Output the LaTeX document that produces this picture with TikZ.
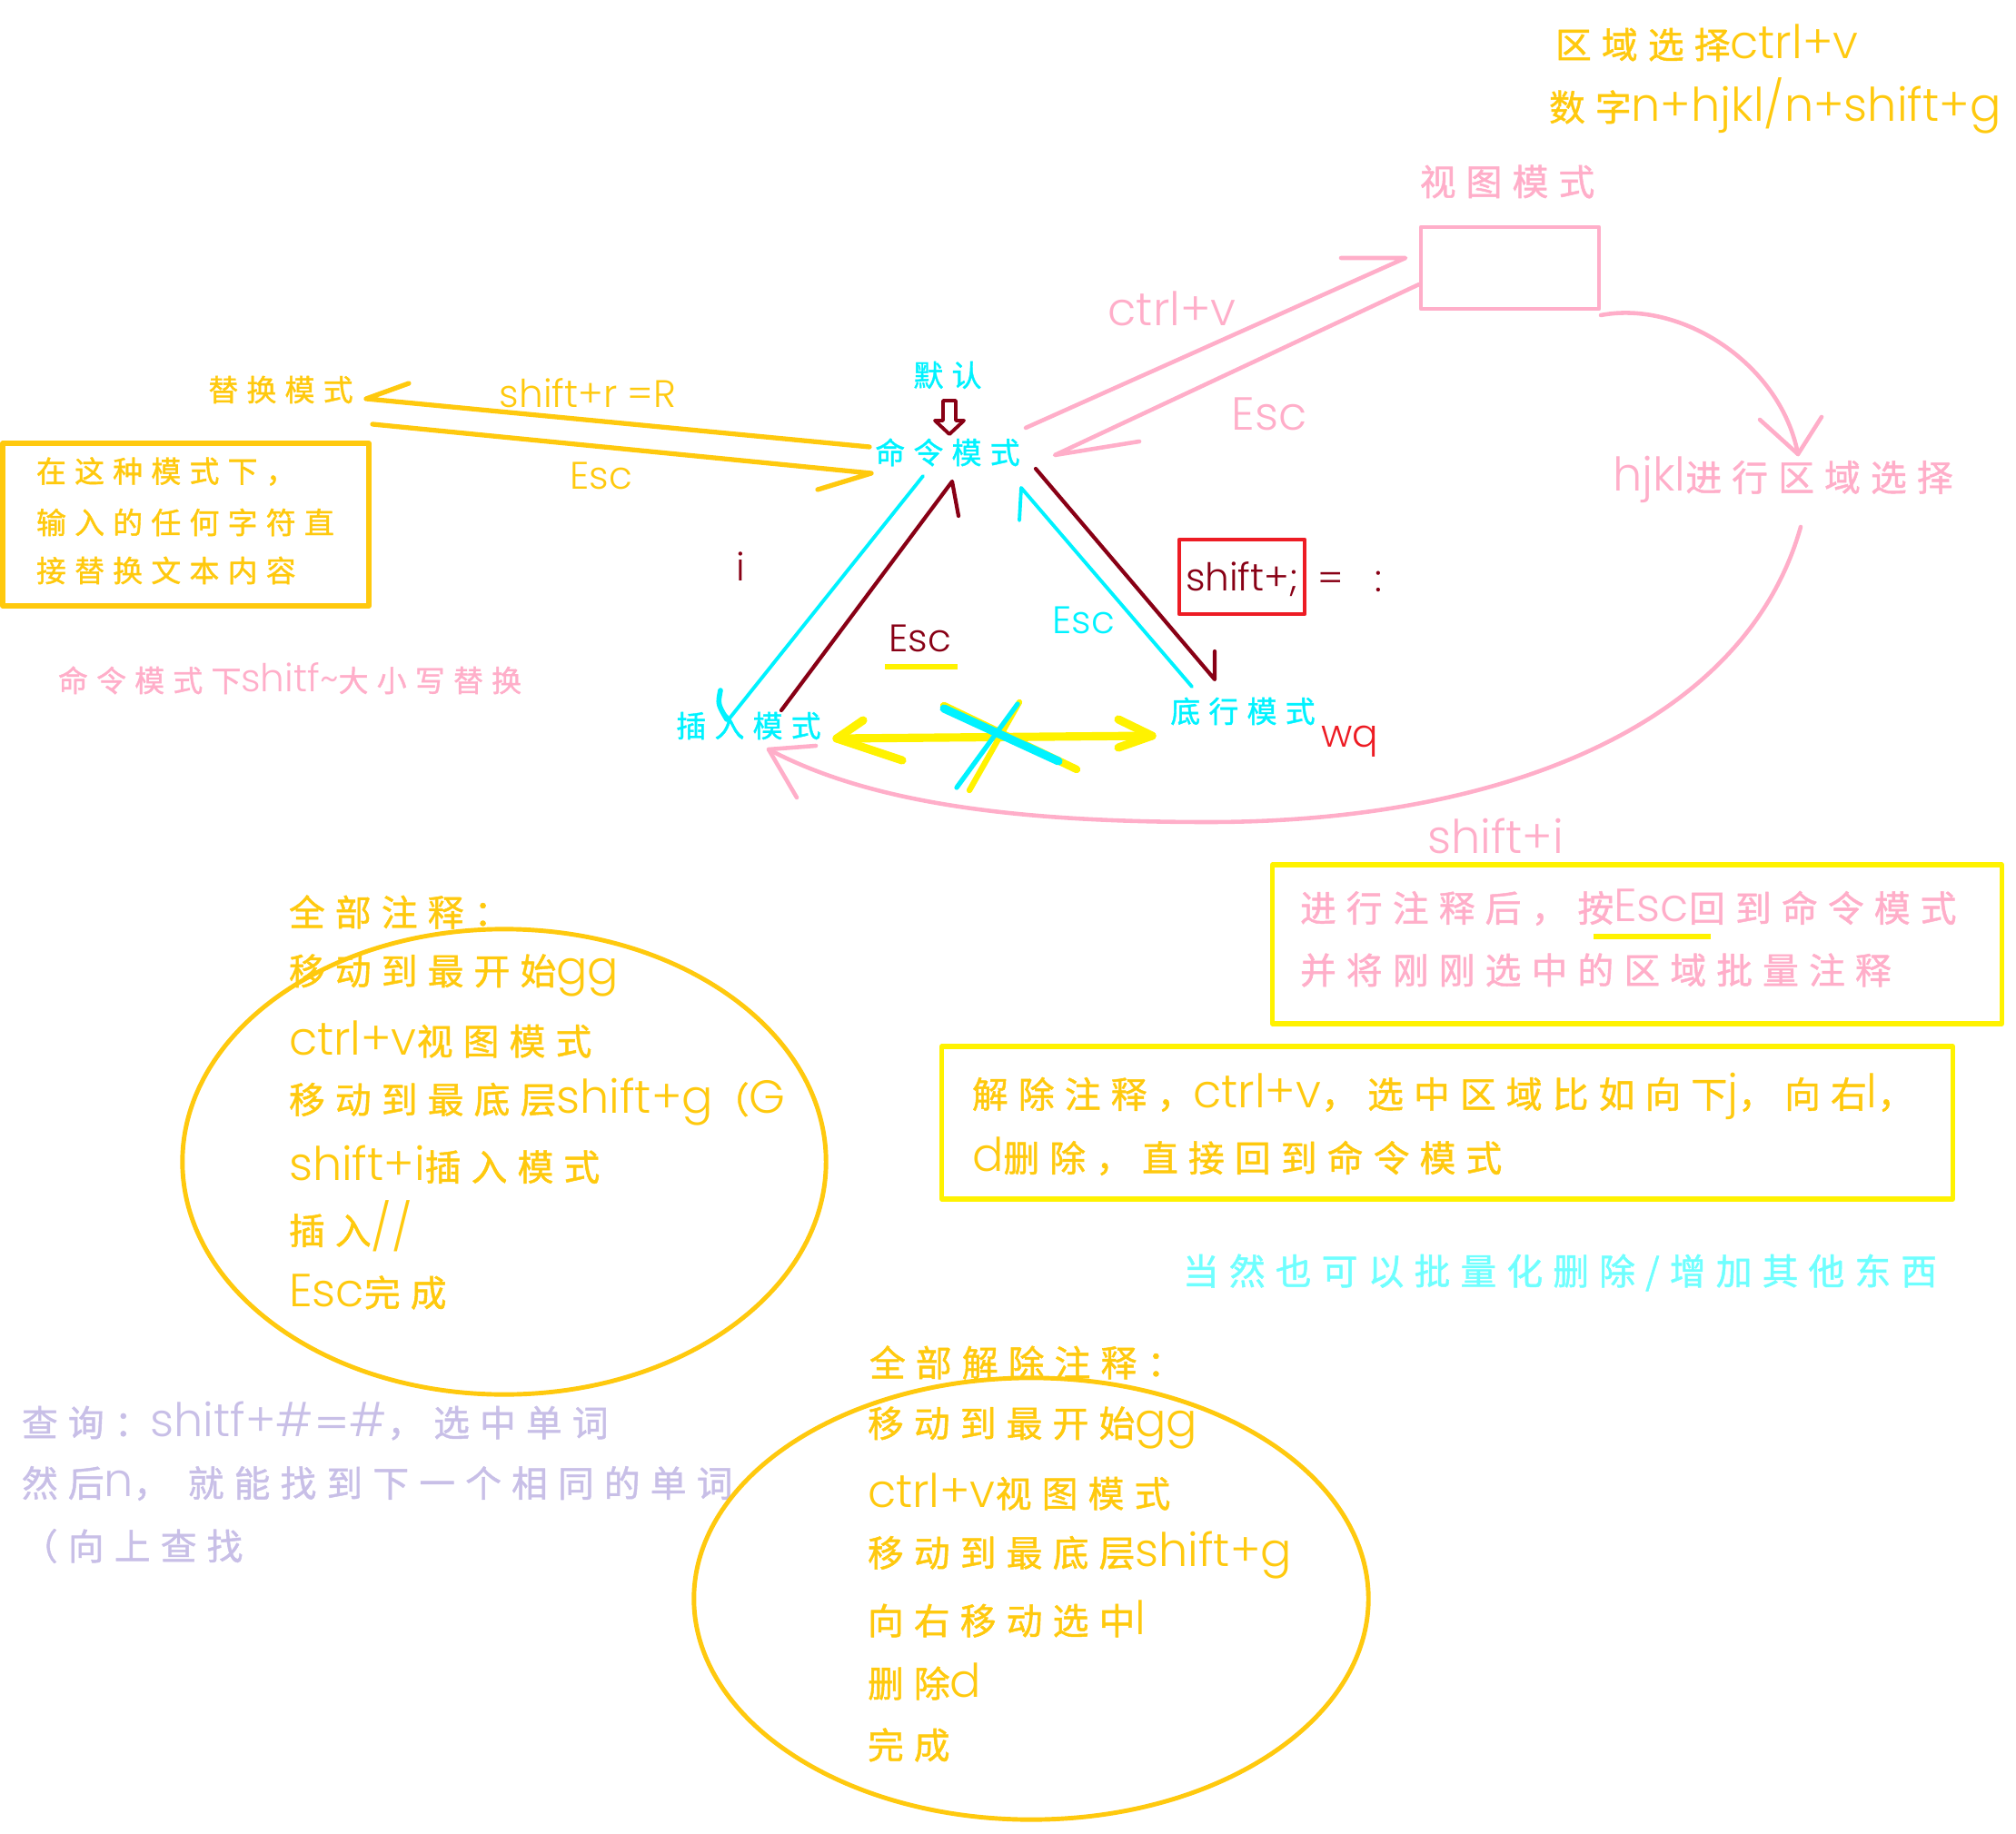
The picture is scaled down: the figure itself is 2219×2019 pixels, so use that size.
\documentclass[tikz,border=0pt]{standalone}
\usepackage{fontspec}
\usetikzlibrary{shapes.geometric,calc}
\setmainfont{Poppins Light}
\newfontfamily\zh[Scale=0.78,LetterSpace=28,FakeBold=1.2]{Noto Sans CJK SC}
\definecolor{gold}{HTML}{FFC90E}
\definecolor{rose}{HTML}{FFAEC9}
\definecolor{cyn}{HTML}{00F2FF}
\definecolor{dred}{HTML}{880015}
\definecolor{rred}{HTML}{ED1C24}
\definecolor{yel}{HTML}{FFF200}
\definecolor{lav}{HTML}{C8BFE7}
\definecolor{lcyn}{HTML}{6FFFFF}
\tikzset{
  txt/.style={inner sep=0pt, outer sep=0pt},
  sm/.style={txt, font=\fontsize{12}{14}\selectfont},
  lg/.style={txt, font=\fontsize{14.5}{17}\selectfont},
  goldln/.style={draw=gold, line width=1.5pt},
  roseln/.style={draw=rose, line width=1.3pt},
  cynln/.style={draw=cyn, line width=1.1pt},
  dredln/.style={draw=dred, line width=1.2pt},
  yelln/.style={draw=yel, line width=2.6pt},
  boxgold/.style={draw=gold, line width=1.5pt, inner sep=0pt},
  boxyel/.style={draw=yel, line width=1.5pt, inner sep=0pt},
}
\begin{document}
\begin{tikzpicture}[x=0.01cm, y=-0.01cm, line cap=round, line join=round]
\useasboundingbox (0,0) rectangle (2219,2019);

% ---------- top right ----------
\node[lg, anchor=west, text=gold] (tr1) at (1712,47) {{\zh 区域选择}ctrl+v};
\node[lg, anchor=west, text=gold] (tr2) at (1705,116) {{\zh 数字}n+hjkl/n+shift+g};

% ---------- view mode ----------
\node[lg, text=rose] (vmt) at (1659,200) {\zh 视图模式};
\node[draw=rose, line width=1.3pt, minimum width=1.96cm, minimum height=0.90cm, inner sep=0pt] (vbox) at (1662,295) {};
\node[lg, text=rose] (ctrlv) at (1290,340) {ctrl+v};
\node[lg, text=rose] (escp) at (1397,456) {Esc};
\node[lg, anchor=west, text=rose] (hjkl) at (1775,528) {hjkl{\zh 进行区域选择}};
\node[lg, text=rose] (shi) at (1646,920) {shift+i};

% ---------- command mode ----------
\node[sm, text=cyn] (def) at (1043,413) {\zh 默认};
\node[sm, text=cyn] (cmd) at (1043,498) {\zh 命令模式};
\draw[dred, line width=1.1pt] (1038,441) -- (1052,441) -- (1052,463) -- (1061,463) -- (1045,478) -- (1029,463) -- (1038,463) -- cycle;

% ---------- replace mode ----------
\node[sm, text=gold] (rep) at (309,429) {\zh 替换模式};
\node[sm, text=gold] (shr) at (647,433) {shift+r =R};
\node[sm, text=gold] (escg) at (662,524) {Esc};
\coordinate (rA) at (403,439);
\coordinate (rB) at (957,492);
\coordinate (rC) at (450,422);
\coordinate (rD) at (410,467);
\coordinate (rE) at (959,521);
\coordinate (rF) at (900,539);
\draw[goldln] (rB) -- (rA) -- (rC);
\draw[goldln] (rD) -- (rE) -- (rF);

\node[boxgold, minimum width=4.03cm, minimum height=1.79cm] (rbox) at (204.5,577.5) {};
\node[sm, anchor=west, text=gold] (rb1) at (40,519) {\zh 在这种模式下，};
\node[sm, anchor=west, text=gold] (rb2) at (40,575) {\zh 输入的任何字符直};
\node[sm, anchor=west, text=gold] (rb3) at (40,628) {\zh 接替换文本内容};
\node[sm, anchor=west, text=rose] (pnote) at (64,747) {{\zh 命令模式下}shitf\textasciitilde{\zh 大小写替换}};

% ---------- insert / bottom-line modes ----------
\node[sm, text=dred] (ilab) at (815,624) {i};
\node[sm, text=cyn] (ins) at (824,799) {\zh 插入模式};
\node[sm, text=cyn] (bot) at (1368,783) {\zh 底行模式};
\node[sm, text=rred] (wq) at (1486,816) {wq};
\node[sm, text=dred] (escd) at (1013,703) {Esc};
\node[sm, text=cyn] (escc) at (1193,683) {Esc};
\node[draw=rred, line width=1.2pt, minimum width=1.38cm, minimum height=0.82cm, inner sep=0pt] (rbx) at (1367,635) {};
\node[sm, anchor=west, text=dred] (shsemi) at (1305,638) {shift+;};
\node[sm, anchor=west, text=dred] (eqc) at (1450,640) {=\hspace{0.35cm}:};

\coordinate (ybA) at (974,734);
\coordinate (ybB) at (1054,734);
\draw[draw=yel, line width=1.8pt, line cap=butt] (ybA) -- (ybB);

% triangle connectors
\coordinate (c1) at (1016,524);
\coordinate (c2) at (802,792);
\coordinate (c3) at (793,760);
\draw[cynln] (c1) -- (c2);
\draw[draw=cyn, line width=1.6pt] (c3) .. controls (790,775) .. (800,792);

\coordinate (d1) at (860,782);
\coordinate (d2) at (1048,530);
\coordinate (d3) at (1055,568);
\draw[dredln] (d1) -- (d2) -- (d3);

\coordinate (e1) at (1312,756);
\coordinate (e2) at (1124,537);
\coordinate (e3) at (1122,573);
\draw[cynln] (e1) -- (e2) -- (e3);

\coordinate (f1) at (1140,516);
\coordinate (f2) at (1337,748);
\coordinate (f3) at (1337,717);
\draw[dredln] (f1) -- (f2) -- (f3);

% yellow double arrow with cross
\coordinate (yA) at (921,813);
\coordinate (yB) at (1268,810);
\draw[yelln] (yA) -- (yB);
\draw[yelln] (950,793) -- (yA) -- (993,837);
\draw[yelln] (1231,792) -- (yB) -- (1231,823);
\draw[draw=yel, line width=2.4pt] (1039,777) -- (1185,847);
\draw[draw=yel, line width=1.8pt] (1122,773) -- (1067,870);
\draw[draw=cyn, line width=2.6pt] (1039,780) -- (1165,838);
\draw[draw=cyn, line width=1.5pt] (1120,775) -- (1053,867);

% pink connectors to view mode
\coordinate (p1) at (1129,471);
\coordinate (p2) at (1547,284);
\coordinate (p3) at (1476,284);
\draw[roseln] (p1) -- (p2) -- (p3);
\coordinate (q1) at (1562,313);
\coordinate (q2) at (1161,501);
\coordinate (q3) at (1254,486);
\draw[roseln] (q1) -- (q2) -- (q3);

% pink curves
\coordinate (s1) at (1762,347);
\coordinate (s2) at (1979,500);
\draw[roseln] (s1) .. controls (1850,330) and (1960,400) .. (s2);
\draw[roseln] (1937,462) -- (s2) -- (2005,459);
\coordinate (u1) at (1982,580);
\coordinate (u2) at (1330,905);
\coordinate (u3) at (846,825);
\draw[roseln] (u1) .. controls (1920,800) and (1650,905) .. (u2) .. controls (1100,905) and (950,880) .. (u3);
\draw[roseln] (898,821) -- (u3) -- (877,878);

% ---------- yellow box 1 ----------
\node[boxyel, minimum width=8.02cm, minimum height=1.75cm] (yb1) at (1802,1039.5) {};
\node[lg, anchor=west, text=rose] (b1a) at (1431,1000) {\zh 进行注释后，按};
\node[lg, anchor=base west, text=rose] (b1b) at (b1a.base east) {Esc};
\node[lg, anchor=base west, text=rose] (b1c) at (b1b.base east) {\zh 回到命令模式};
\draw[draw=yel, line width=1.8pt, line cap=butt] ($(b1b.base west)+(-22,16)$) coordinate (ub1) -- ($(b1b.base east)+(24,16)$) coordinate (ub2);
\node[lg, anchor=west, text=rose] (b1d) at (1431,1068) {\zh 并将刚刚选中的区域批量注释};

% ---------- yellow box 2 ----------
\node[boxyel, minimum width=11.12cm, minimum height=1.68cm] (yb2) at (1593,1236) {};
\node[lg, anchor=west, text=gold] (b2a) at (1070,1207) {{\zh 解除注释，}ctrl+v{\zh ，选中区域比如向下}j{\zh ，向右}l{\zh ，}};
\node[lg, anchor=west, text=gold] (b2b) at (1070,1273) {d{\zh 删除，直接回到命令模式}};

\node[lg, anchor=west, text=lcyn] (also) at (1302,1401) {\zh 当然也可以批量化删除/增加其他东西};

% ---------- ellipse 1 ----------
\node[draw=gold, line width=1.4pt, ellipse, minimum width=7.08cm, minimum height=5.12cm, inner sep=0pt] (ell1) at (555,1279) {};
\node[lg, anchor=west, text=gold] (e1t) at (318,1004) {\zh 全部注释：};
\node[lg, anchor=west, text=gold] (e1a) at (318,1074) {{\zh 移动到最开始}gg};
\node[lg, anchor=west, text=gold] (e1b) at (318,1144) {ctrl+v{\zh 视图模式}};
\node[lg, anchor=west, text=gold] (e1c) at (318,1213) {{\zh 移动到最底层}shift+g{\zh （}G};
\node[lg, anchor=west, text=gold] (e1d) at (318,1282) {shift+i{\zh 插入模式}};
\node[lg, anchor=west, text=gold] (e1e) at (318,1350) {{\zh 插入}//};
\node[lg, anchor=west, text=gold] (e1f) at (318,1422) {Esc{\zh 完成}};

% ---------- lavender notes ----------
\node[lg, anchor=west, text=lav] (lv1) at (24,1564) {{\zh 查询：}shitf+\#{\zh ＝}\#{\zh ，选中单词}};
\node[lg, anchor=west, text=lav] (lv2) at (24,1633) {{\zh 然后}n{\zh ，\ 就能找到下一个相同的单词}};
\node[lg, anchor=west, text=lav] (lv3) at (24,1702) {\zh （向上查找};

% ---------- ellipse 2 ----------
\node[draw=gold, line width=1.4pt, ellipse, minimum width=7.42cm, minimum height=4.86cm, inner sep=0pt] (ell2) at (1135,1760) {};
\node[lg, anchor=west, text=gold] (e2t) at (957,1500) {\zh 全部解除注释：};
\node[lg, anchor=west, text=gold] (e2a) at (955,1572) {{\zh 移动到最开始}gg};
\node[lg, anchor=west, text=gold] (e2b) at (955,1642) {ctrl+v{\zh 视图模式}};
\node[lg, anchor=west, text=gold] (e2c) at (955,1712) {{\zh 移动到最底层}shift+g};
\node[lg, anchor=west, text=gold] (e2d) at (955,1782) {{\zh 向右移动选中}l};
\node[lg, anchor=west, text=gold] (e2e) at (955,1851) {{\zh 删除}d};
\node[lg, anchor=west, text=gold] (e2f) at (955,1921) {\zh 完成};
\end{tikzpicture}
\end{document}
